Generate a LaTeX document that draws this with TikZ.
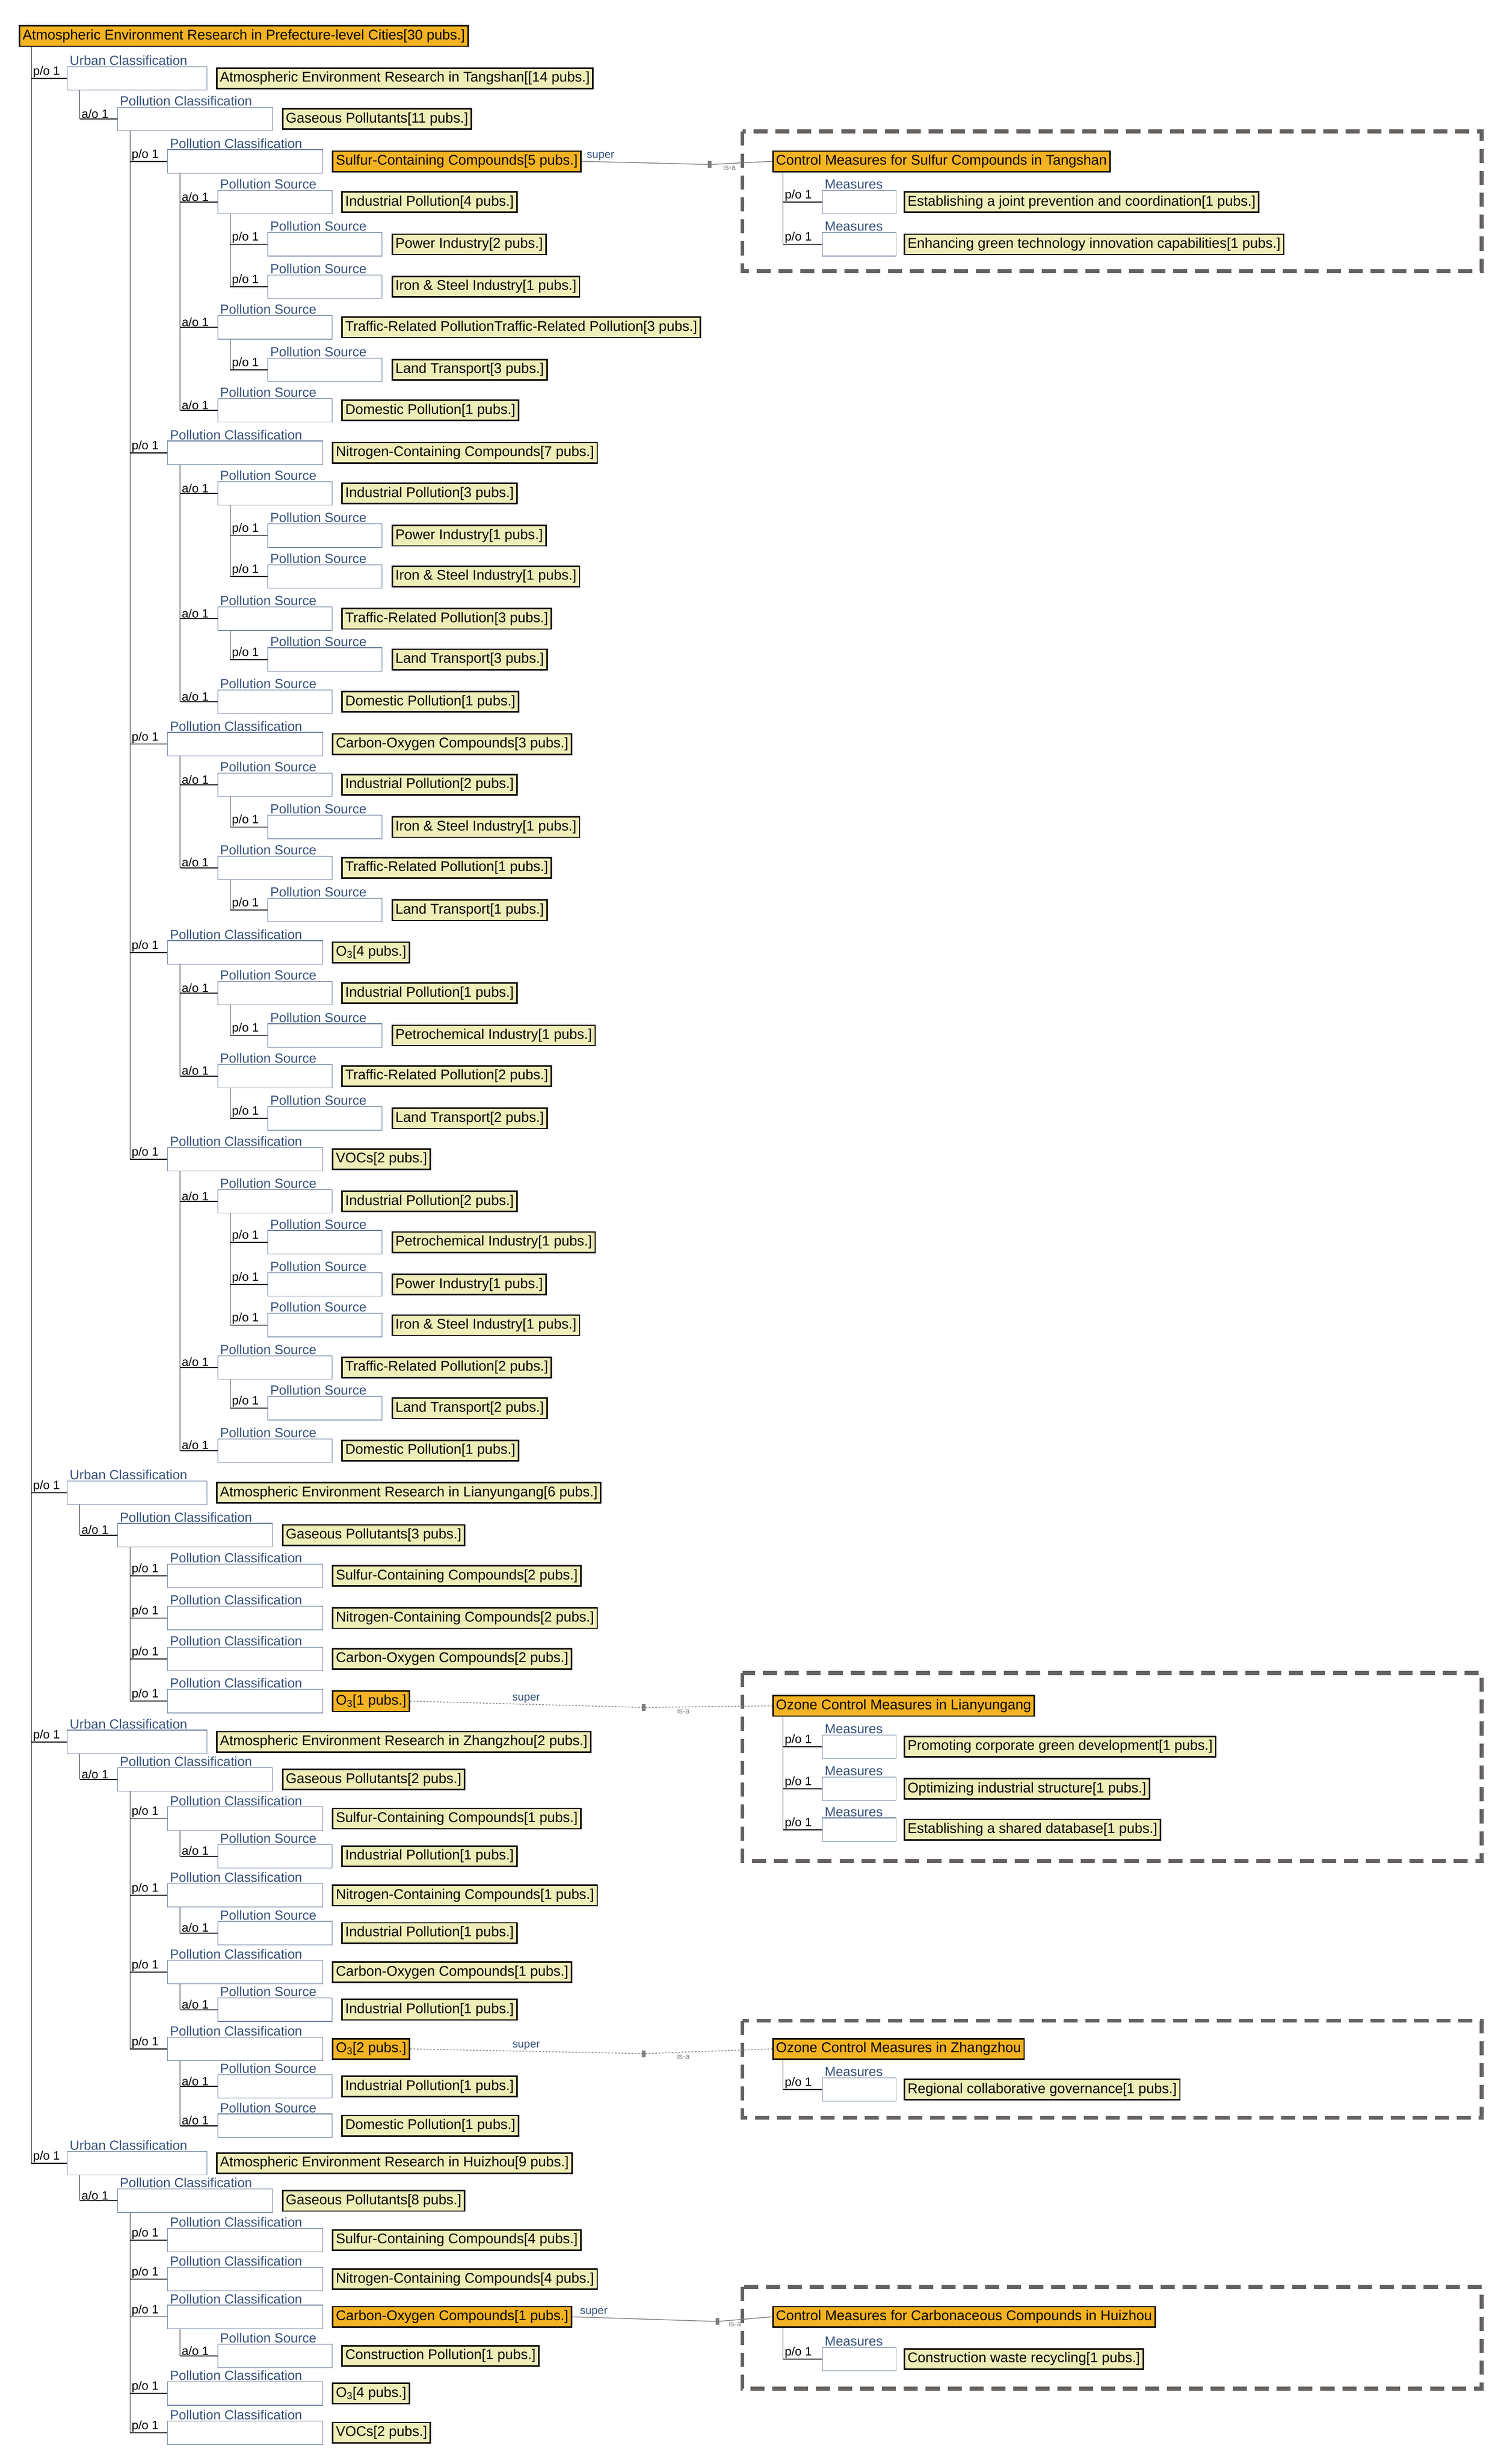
\documentclass[tikz,border=0pt]{standalone}
\usepackage{fontspec}
\setmainfont{Liberation Sans}
\definecolor{yel}{HTML}{EFEDB8}
\definecolor{org}{HTML}{F4B322}
\definecolor{capc}{HTML}{34507A}
\definecolor{dgray}{HTML}{666260}
\tikzset{
 ybox/.style={draw=black,line width=0.9mm,fill=yel,inner xsep=2mm,inner ysep=0pt,minimum height=13mm,font=\fontsize{25.5}{27}\selectfont,anchor=west},
 obox/.style={ybox,fill=org},
 ebox/.style={draw=capc!70,line width=0.4mm,fill=white},
 stubline/.style={line width=0.6mm,black},
 vline/.style={line width=0.35mm,black!80},
 reltxt/.style={font=\fontsize{22}{24}\selectfont,anchor=south west,inner sep=0.5mm},
 captxt/.style={font=\fontsize{24}{26}\selectfont,text=capc,anchor=south west,inner sep=0.5mm},
 dbox/.style={draw=dgray,line width=2.6mm,dash pattern=on 9mm off 5mm},
 conn/.style={draw=gray,line width=0.5mm},
 smalltxt/.style={font=\fontsize{20}{22}\selectfont,text=capc,inner sep=0.5mm},
 isatxt/.style={font=\fontsize{14}{15}\selectfont,text=gray,inner sep=0.5mm},
 sq/.style={draw=gray,fill=gray,minimum width=2mm,minimum height=4mm,inner sep=0},
}
\newcommand\ent[7]{%
 \ifcase#1\or\def\V{20}\def\Ba{43}\def\Bb{132}\def\Yx{138}%
 \or\def\V{51}\def\Ba{75}\def\Bb{174}\def\Yx{180}%
 \or\def\V{83}\def\Ba{107}\def\Bb{206}\def\Yx{212}%
 \or\def\V{115}\def\Ba{139}\def\Bb{212}\def\Yx{218}%
 \or\def\V{147}\def\Ba{171}\def\Bb{244}\def\Yx{250}%
 \or\def\V{500}\def\Ba{525}\def\Bb{572}\def\Yx{577}\fi
 \coordinate (s#7) at (\V,#2);
 \coordinate (b#7) at (\Ba,#2);
 \draw[stubline] (s#7) -- (b#7);
 \node[reltxt] at (\V+0.5,#2) {#3};
 \draw[ebox] (\Ba,#2-7.5) rectangle (\Bb,#2+7.5);
 \node[captxt] at (\Ba+1,#2-7.8) {#4};
 \node[#6] (#7) at (\Yx,#2) {#5};
}
\newcommand\vl[3]{\draw[vline] (#1,#2) -- (#1,#3);}
\begin{document}
\begin{tikzpicture}[x=1mm,y=-1mm]
\useasboundingbox[fill=white] (0,0) rectangle (960,1573);
\node[obox] (root) at (12,23) {Atmospheric Environment Research in Prefecture-level Cities[30 pubs.]};
% verticals
\vl{20}{30}{1381}
\vl{51}{57.5}{76}\vl{51}{960.5}{980}\vl{51}{1119.5}{1136}\vl{51}{1388.5}{1405}
\vl{83}{83.5}{740}\vl{83}{987.5}{1086}\vl{83}{1143.5}{1308}\vl{83}{1412.5}{1553}
\vl{115}{110.5}{262}\vl{115}{296.5}{448}\vl{115}{482.5}{554}\vl{115}{615.5}{687}\vl{115}{747.5}{926}
\vl{115}{1168.5}{1185}\vl{115}{1217.5}{1234}\vl{115}{1266.5}{1283}\vl{115}{1315.5}{1357}\vl{115}{1486.5}{1504}
\vl{147}{136.5}{183}\vl{147}{216.5}{236}\vl{147}{322.5}{368}\vl{147}{402.5}{421}\vl{147}{508.5}{528}
\vl{147}{561.5}{581}\vl{147}{641.5}{661}\vl{147}{694.5}{714}\vl{147}{774.5}{846}\vl{147}{880.5}{899}
% Tangshan
\ent{1}{50}{p/o 1}{Urban Classification}{Atmospheric Environment Research in Tangshan[[14 pubs.]}{ybox}{r1}
\ent{2}{76}{a/o 1}{Pollution Classification}{Gaseous Pollutants[11 pubs.]}{ybox}{r2}
\ent{3}{103}{p/o 1}{Pollution Classification}{Sulfur-Containing Compounds[5 pubs.]}{obox}{r3}
\ent{4}{129}{a/o 1}{Pollution Source}{Industrial Pollution[4 pubs.]}{ybox}{r4}
\ent{5}{156}{p/o 1}{Pollution Source}{Power Industry[2 pubs.]}{ybox}{r5}
\ent{5}{183}{p/o 1}{Pollution Source}{Iron \& Steel Industry[1 pubs.]}{ybox}{r6}
\ent{4}{209}{a/o 1}{Pollution Source}{Traffic-Related PollutionTraffic-Related Pollution[3 pubs.]}{ybox}{r7}
\ent{5}{236}{p/o 1}{Pollution Source}{Land Transport[3 pubs.]}{ybox}{r8}
\ent{4}{262}{a/o 1}{Pollution Source}{Domestic Pollution[1 pubs.]}{ybox}{r9}
\ent{3}{289}{p/o 1}{Pollution Classification}{Nitrogen-Containing Compounds[7 pubs.]}{ybox}{r10}
\ent{4}{315}{a/o 1}{Pollution Source}{Industrial Pollution[3 pubs.]}{ybox}{r11}
\ent{5}{342}{p/o 1}{Pollution Source}{Power Industry[1 pubs.]}{ybox}{r12}
\ent{5}{368}{p/o 1}{Pollution Source}{Iron \& Steel Industry[1 pubs.]}{ybox}{r13}
\ent{4}{395}{a/o 1}{Pollution Source}{Traffic-Related Pollution[3 pubs.]}{ybox}{r14}
\ent{5}{421}{p/o 1}{Pollution Source}{Land Transport[3 pubs.]}{ybox}{r15}
\ent{4}{448}{a/o 1}{Pollution Source}{Domestic Pollution[1 pubs.]}{ybox}{r16}
\ent{3}{475}{p/o 1}{Pollution Classification}{Carbon-Oxygen Compounds[3 pubs.]}{ybox}{r17}
\ent{4}{501}{a/o 1}{Pollution Source}{Industrial Pollution[2 pubs.]}{ybox}{r18}
\ent{5}{528}{p/o 1}{Pollution Source}{Iron \& Steel Industry[1 pubs.]}{ybox}{r19}
\ent{4}{554}{a/o 1}{Pollution Source}{Traffic-Related Pollution[1 pubs.]}{ybox}{r20}
\ent{5}{581}{p/o 1}{Pollution Source}{Land Transport[1 pubs.]}{ybox}{r21}
\ent{3}{608}{p/o 1}{Pollution Classification}{O\textsubscript{3}[4 pubs.]}{ybox}{r22}
\ent{4}{634}{a/o 1}{Pollution Source}{Industrial Pollution[1 pubs.]}{ybox}{r23}
\ent{5}{661}{p/o 1}{Pollution Source}{Petrochemical Industry[1 pubs.]}{ybox}{r24}
\ent{4}{687}{a/o 1}{Pollution Source}{Traffic-Related Pollution[2 pubs.]}{ybox}{r25}
\ent{5}{714}{p/o 1}{Pollution Source}{Land Transport[2 pubs.]}{ybox}{r26}
\ent{3}{740}{p/o 1}{Pollution Classification}{VOCs[2 pubs.]}{ybox}{r27}
\ent{4}{767}{a/o 1}{Pollution Source}{Industrial Pollution[2 pubs.]}{ybox}{r28}
\ent{5}{793}{p/o 1}{Pollution Source}{Petrochemical Industry[1 pubs.]}{ybox}{r29}
\ent{5}{820}{p/o 1}{Pollution Source}{Power Industry[1 pubs.]}{ybox}{r30}
\ent{5}{846}{p/o 1}{Pollution Source}{Iron \& Steel Industry[1 pubs.]}{ybox}{r31}
\ent{4}{873}{a/o 1}{Pollution Source}{Traffic-Related Pollution[2 pubs.]}{ybox}{r32}
\ent{5}{899}{p/o 1}{Pollution Source}{Land Transport[2 pubs.]}{ybox}{r33}
\ent{4}{926}{a/o 1}{Pollution Source}{Domestic Pollution[1 pubs.]}{ybox}{r34}
% Lianyungang
\ent{1}{953}{p/o 1}{Urban Classification}{Atmospheric Environment Research in Lianyungang[6 pubs.]}{ybox}{r35}
\ent{2}{980}{a/o 1}{Pollution Classification}{Gaseous Pollutants[3 pubs.]}{ybox}{r36}
\ent{3}{1006}{p/o 1}{Pollution Classification}{Sulfur-Containing Compounds[2 pubs.]}{ybox}{r37}
\ent{3}{1033}{p/o 1}{Pollution Classification}{Nitrogen-Containing Compounds[2 pubs.]}{ybox}{r38}
\ent{3}{1059}{p/o 1}{Pollution Classification}{Carbon-Oxygen Compounds[2 pubs.]}{ybox}{r39}
\ent{3}{1086}{p/o 1}{Pollution Classification}{O\textsubscript{3}[1 pubs.]}{obox}{r40}
% Zhangzhou
\ent{1}{1112}{p/o 1}{Urban Classification}{Atmospheric Environment Research in Zhangzhou[2 pubs.]}{ybox}{r41}
\ent{2}{1136}{a/o 1}{Pollution Classification}{Gaseous Pollutants[2 pubs.]}{ybox}{r42}
\ent{3}{1161}{p/o 1}{Pollution Classification}{Sulfur-Containing Compounds[1 pubs.]}{ybox}{r43}
\ent{4}{1185}{a/o 1}{Pollution Source}{Industrial Pollution[1 pubs.]}{ybox}{r44}
\ent{3}{1210}{p/o 1}{Pollution Classification}{Nitrogen-Containing Compounds[1 pubs.]}{ybox}{r45}
\ent{4}{1234}{a/o 1}{Pollution Source}{Industrial Pollution[1 pubs.]}{ybox}{r46}
\ent{3}{1259}{p/o 1}{Pollution Classification}{Carbon-Oxygen Compounds[1 pubs.]}{ybox}{r47}
\ent{4}{1283}{a/o 1}{Pollution Source}{Industrial Pollution[1 pubs.]}{ybox}{r48}
\ent{3}{1308}{p/o 1}{Pollution Classification}{O\textsubscript{3}[2 pubs.]}{obox}{r49}
\ent{4}{1332}{a/o 1}{Pollution Source}{Industrial Pollution[1 pubs.]}{ybox}{r50}
\ent{4}{1357}{a/o 1}{Pollution Source}{Domestic Pollution[1 pubs.]}{ybox}{r51}
% Huizhou
\ent{1}{1381}{p/o 1}{Urban Classification}{Atmospheric Environment Research in Huizhou[9 pubs.]}{ybox}{r52}
\ent{2}{1405}{a/o 1}{Pollution Classification}{Gaseous Pollutants[8 pubs.]}{ybox}{r53}
\ent{3}{1430}{p/o 1}{Pollution Classification}{Sulfur-Containing Compounds[4 pubs.]}{ybox}{r54}
\ent{3}{1455}{p/o 1}{Pollution Classification}{Nitrogen-Containing Compounds[4 pubs.]}{ybox}{r55}
\ent{3}{1479}{p/o 1}{Pollution Classification}{Carbon-Oxygen Compounds[1 pubs.]}{obox}{r56}
\ent{4}{1504}{a/o 1}{Pollution Source}{Construction Pollution[1 pubs.]}{ybox}{r57}
\ent{3}{1528}{p/o 1}{Pollution Classification}{O\textsubscript{3}[4 pubs.]}{ybox}{r58}
\ent{3}{1553}{p/o 1}{Pollution Classification}{VOCs[2 pubs.]}{ybox}{r59}
% dashed boxes
\draw[dbox] (474,84) rectangle (946,173);
\draw[dbox] (474,1068) rectangle (946,1188);
\draw[dbox] (474,1290) rectangle (946,1352);
\draw[dbox] (474,1460) rectangle (946,1525);
% titles
\node[obox] (t1) at (493,103) {Control Measures for Sulfur Compounds in Tangshan};
\node[obox] (t2) at (493,1089) {Ozone Control Measures in Lianyungang};
\node[obox] (t3) at (493,1308) {Ozone Control Measures in Zhangzhou};
\node[obox] (t4) at (493,1479) {Control Measures for Carbonaceous Compounds in Huizhou};
\vl{500}{110}{156}\vl{500}{1096}{1168}\vl{500}{1315}{1334}\vl{500}{1486}{1506}
\ent{6}{129}{p/o 1}{Measures}{Establishing a joint prevention and coordination[1 pubs.]}{ybox}{m1}
\ent{6}{156}{p/o 1}{Measures}{Enhancing green technology innovation capabilities[1 pubs.]}{ybox}{m2}
\ent{6}{1115}{p/o 1}{Measures}{Promoting corporate green development[1 pubs.]}{ybox}{m3}
\ent{6}{1142}{p/o 1}{Measures}{Optimizing industrial structure[1 pubs.]}{ybox}{m4}
\ent{6}{1168}{p/o 1}{Measures}{Establishing a shared database[1 pubs.]}{ybox}{m5}
\ent{6}{1334}{p/o 1}{Measures}{Regional collaborative governance[1 pubs.]}{ybox}{m6}
\ent{6}{1506}{p/o 1}{Measures}{Construction waste recycling[1 pubs.]}{ybox}{m7}
% super / is-a connectors
\node[sq] (q1) at (453,105) {};
\node[sq] (q2) at (411,1090) {};
\node[sq] (q3) at (411,1311) {};
\node[sq] (q4) at (458,1482) {};
\draw[conn] (r3.east) -- node[smalltxt,above,pos=0.15]{super} (q1) -- node[isatxt,below,pos=0.3]{is-a} (t1.west);
\draw[conn,dashed] (r40.east) -- node[smalltxt,above]{super} (q2) -- node[isatxt,below,pos=0.3]{is-a} (t2.west);
\draw[conn,dashed] (r49.east) -- node[smalltxt,above]{super} (q3) -- node[isatxt,below,pos=0.3]{is-a} (t3.west);
\draw[conn] (r56.east) -- node[smalltxt,above,pos=0.15]{super} (q4) -- node[isatxt,below,pos=0.3]{is-a} (t4.west);
\end{tikzpicture}
\end{document}
